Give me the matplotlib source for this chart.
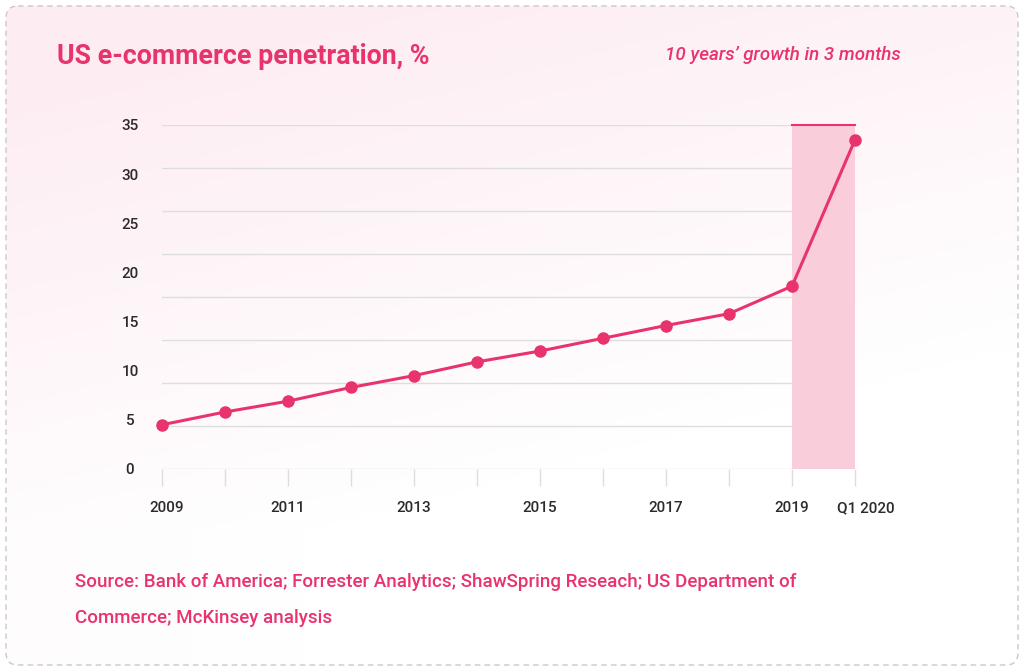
import numpy as np
import matplotlib
matplotlib.use('Agg')
import matplotlib.pyplot as plt
import matplotlib.transforms as mtransforms
from matplotlib.patches import FancyBboxPatch, Rectangle

# data (% of US retail)
years = ['2009', '2010', '2011', '2012', '2013', '2014', '2015',
         '2016', '2017', '2018', '2019', 'Q1 2020']
penetration = [4.5, 5.8, 6.9, 8.3, 9.5, 10.9, 12.0, 13.3, 14.6, 15.8, 18.6, 33.5]
shown_labels = ['2009', '2011', '2013', '2015', '2017', '2019', 'Q1 2020']
y_labels = [0, 5, 10, 15, 20, 25, 30, 35]

pink = '#e8336d'
shade = '#f9cdda'
grid_c = '#dedede'
text_c = '#2b2b2b'

plt.rcParams['font.family'] = ['Roboto', 'DejaVu Sans']

fig = plt.figure(figsize=(10.24, 6.71), dpi=100)
W, H = 1024, 671

# background: soft pink gradient inside a dashed rounded box
bg = fig.add_axes([0, 0, 1, 1])
bg.set_xlim(0, W)
bg.set_ylim(H, 0)
bg.axis('off')
xx, yy = np.meshgrid(np.linspace(0, 1, 200), np.linspace(0, 1, 140))
t = np.clip(0.75 * yy + 0.3 * xx, 0, 1)
t = np.clip(1.1 - 1.6 * t + 1.2 * np.clip(yy - 0.8, 0, 1), 0, 1)
top = np.array([253, 236, 242]) / 255.0
img = np.ones((140, 200, 3)) * (1 - t[..., None]) + top * t[..., None]
box = FancyBboxPatch((6, 6), W - 12, H - 12, boxstyle='round,pad=0,rounding_size=12',
                     facecolor='none', edgecolor='#c9c9c9', lw=1.0, ls=(0, (4, 3)))
bg.add_patch(box)
im = bg.imshow(img, extent=[6, W - 6, H - 6, 6], aspect='auto', zorder=0)
im.set_clip_path(box)

bg.text(57, 57, 'US e-commerce penetration, %', color=pink, fontsize=19.3,
        fontweight='bold', va='center', ha='left')
bg.text(901, 55, '10 years\u2019 growth in 3 months', color=pink, fontsize=13.5,
        fontstyle='italic', fontweight='medium', va='center', ha='right')
bg.text(75, 582, 'Source: Bank of America; Forrester Analytics; ShawSpring Reseach; US Department of',
        color=pink, fontsize=13.5, fontweight='medium', va='center', ha='left')
bg.text(75, 618, 'Commerce; McKinsey analysis', color=pink, fontsize=13.5,
        fontweight='medium', va='center', ha='left')

# main plot
ax = fig.add_axes([162 / W, 1 - 469 / H, (855 - 162) / W, (469 - 125) / H])
ax.set_facecolor('none')
x = np.arange(len(years))
ax.set_xlim(0, len(years) - 1)
ax.set_ylim(0, 35)

for g in np.linspace(0, 35, 9):
    ax.axhline(g, color=grid_c, lw=1, zorder=1)

ax.add_patch(Rectangle((x[-2], 0), 1, 35, facecolor=shade, edgecolor='none', zorder=2))
ax.plot([x[-2], x[-1]], [35, 35], color=pink, lw=1.5, zorder=3, clip_on=False)

ax.plot(x, penetration, color=pink, lw=2.2, marker='o', markersize=8,
        zorder=4, clip_on=False)

for s in ax.spines.values():
    s.set_visible(False)

ax.set_xticks(x)
ax.set_xticklabels([y if y in shown_labels else '' for y in years])
ax.tick_params(axis='x', length=12, width=1, color=grid_c, pad=11,
               labelsize=11, labelcolor=text_c)
ax.set_yticks(y_labels)
ax.set_yticklabels([str(v) for v in y_labels])
ax.tick_params(axis='y', length=0, pad=23, labelsize=11, labelcolor=text_c)
for lab in ax.get_xticklabels() + ax.get_yticklabels():
    lab.set_fontweight('medium')
for lab in ax.get_yticklabels():
    lab.set_horizontalalignment('center')

# first and last year labels sit a little right of their ticks in the original
xl = ax.get_xticklabels()
for lab, dx in [(xl[0], 5), (xl[-1], 11)]:
    lab.set_transform(lab.get_transform() +
                      mtransforms.ScaledTranslation(dx / 100, 0, fig.dpi_scale_trans))

fig.savefig('out.png', dpi=100)
